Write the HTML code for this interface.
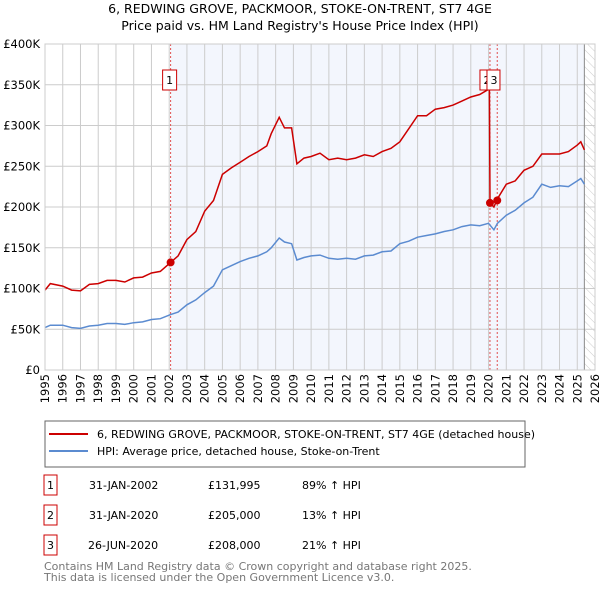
<!DOCTYPE html>
<html><head><meta charset="utf-8"><style>
body{margin:0;background:#fff;font-family:"DejaVu Sans","Liberation Sans",sans-serif;}
svg text{font-family:"DejaVu Sans","Liberation Sans",sans-serif;}
</style></head><body>
<svg id="c" width="600" height="590" xmlns="http://www.w3.org/2000/svg">
<defs><pattern id="hatch" width="6" height="6" patternUnits="userSpaceOnUse" patternTransform="rotate(-45)"><line x1="0" y1="0" x2="0" y2="6" stroke="#ccc" stroke-width="1"/></pattern></defs>
<text x="300" y="13" text-anchor="middle" font-size="12.5">6, REDWING GROVE, PACKMOOR, STOKE-ON-TRENT, ST7 4GE</text>
<text x="300" y="30" text-anchor="middle" font-size="12.5">Price paid vs. HM Land Registry's House Price Index (HPI)</text>
<g id="plot"></g>
<rect x="45" y="421" width="480" height="46" fill="none" stroke="#666"/>
<line x1="49" y1="434" x2="88" y2="434" stroke="#cc0000" stroke-width="2"/>
<text x="97" y="438" font-size="11">6, REDWING GROVE, PACKMOOR, STOKE-ON-TRENT, ST7 4GE (detached house)</text>
<line x1="49" y1="451" x2="88" y2="451" stroke="#5b8bd0" stroke-width="2"/>
<text x="97" y="455" font-size="11">HPI: Average price, detached house, Stoke-on-Trent</text>
<g font-size="11">
<rect x="44" y="475" width="13" height="20" fill="none" stroke="#cc0000"/><text x="50.5" y="489" text-anchor="middle">1</text>
<text x="89" y="489">31-JAN-2002</text><text x="208" y="489">£131,995</text><text x="302" y="489">89% ↑ HPI</text>
<rect x="44" y="505" width="13" height="20" fill="none" stroke="#cc0000"/><text x="50.5" y="519" text-anchor="middle">2</text>
<text x="89" y="519">31-JAN-2020</text><text x="208" y="519">£205,000</text><text x="302" y="519">13% ↑ HPI</text>
<rect x="44" y="535" width="13" height="20" fill="none" stroke="#cc0000"/><text x="50.5" y="549" text-anchor="middle">3</text>
<text x="88" y="549">26-JUN-2020</text><text x="208" y="549">£208,000</text><text x="302" y="549">21% ↑ HPI</text>
</g>
<text x="44" y="570" font-size="11" fill="#777">Contains HM Land Registry data © Crown copyright and database right 2025.</text>
<text x="44" y="581" font-size="11" fill="#777">This data is licensed under the Open Government Licence v3.0.</text>
</svg>
<script>
const hpiYears=[1995,1995.3,1996,1996.5,1997,1997.5,1998,1998.5,1999,1999.5,2000,2000.5,2001,2001.5,2002.08,2002.5,2003,2003.5,2004,2004.5,2005,2005.5,2006,2006.5,2007,2007.5,2007.75,2008.2,2008.5,2008.9,2009.2,2009.6,2010,2010.5,2011,2011.5,2012,2012.5,2013,2013.5,2014,2014.5,2015,2015.5,2016,2016.5,2017,2017.5,2018,2018.5,2019,2019.5,2020,2020.3,2020.5,2021,2021.5,2022,2022.5,2023,2023.5,2024,2024.5,2025,2025.2,2025.4];
const hpiValues=[52,55,55,52,51,54,55,57,57,56,58,59,62,63,68,71,80,86,95,103,123,128,133,137,140,145,150,162,157,155,135,138,140,141,137,136,137,136,140,141,145,146,155,158,163,165,167,170,172,176,178,177,180,172,180,190,196,205,212,228,224,226,225,232,235,228];
const redYears=[1995,1995.3,1996,1996.5,1997,1997.5,1998,1998.5,1999,1999.5,2000,2000.5,2001,2001.5,2002.08,2002.5,2003,2003.5,2004,2004.5,2005,2005.5,2006,2006.5,2007,2007.5,2007.75,2008.2,2008.5,2008.9,2009.2,2009.6,2010,2010.5,2011,2011.5,2012,2012.5,2013,2013.5,2014,2014.5,2015,2015.5,2016,2016.5,2017,2017.5,2018,2018.5,2019,2019.5,2020.05,2020.08,2020.3,2020.5,2021,2021.5,2022,2022.5,2023,2023.5,2024,2024.5,2025,2025.2,2025.4];
const redValues=[98,106,103,98,97,105,106,110,110,108,113,114,119,121,132,140,160,170,195,208,240,248,255,262,268,275,290,310,297,297,253,260,262,266,258,260,258,260,264,262,268,272,280,296,312,312,320,322,325,330,335,338,345,205,200,210,228,232,245,250,265,265,265,268,276,280,270];
const saleYears=[2002.08,2020.08,2020.49];
const saleValues=[131.995,205,208];
const saleLabels=["1","2","3"];
const yTicks=[0,50,100,150,200,250,300,350,400];
const xTicks=[1995,1996,1997,1998,1999,2000,2001,2002,2003,2004,2005,2006,2007,2008,2009,2010,2011,2012,2013,2014,2015,2016,2017,2018,2019,2020,2021,2022,2023,2024,2025,2026];

const X0=45,X1=595,Y0=370,Y1=44;
const sx=v=>X0+(v-1995)/(2026-1995)*(X1-X0);
const sy=v=>Y0-v/400*(Y0-Y1);
const NS="http://www.w3.org/2000/svg";
const g=document.getElementById('plot');
function mk(t,a){const e=document.createElementNS(NS,t);for(const k in a)e.setAttribute(k,a[k]);g.appendChild(e);return e;}
let e;
e=mk('rect',{x:sx(2002.08),y:Y1,width:sx(2025.4)-sx(2002.08),height:Y0-Y1,fill:'#f3f6fd'});


e=mk('rect',{x:sx(2025.4),y:Y1,width:X1-sx(2025.4),height:Y0-Y1,fill:'url(#hatch)'});


xTicks.forEach(t=>{
 e=mk('line',{x1:sx(t),x2:sx(t),y1:Y1,y2:Y0,stroke:'#ccc','stroke-width':1});
 
 
 const tx=sx(t)+4,ty=374;
 e=mk('text',{x:tx,y:ty,'text-anchor':'end','font-size':11.5,transform:`rotate(-90 ${tx} ${ty})`});e.textContent=t;
 
 
});
yTicks.forEach(t=>{
 e=mk('line',{x1:X0,x2:X1,y1:sy(t),y2:sy(t),stroke:'#ccc','stroke-width':1});
 
 
 e=mk('text',{x:40,y:sy(t)+4,'text-anchor':'end','font-size':11.5});e.textContent=t===0?'£0':'£'+t+'K';
 
 
});
e=mk('line',{x1:sx(2025.4),x2:sx(2025.4),y1:Y1,y2:Y0,stroke:'#888','stroke-width':1});


saleYears.forEach((y,i)=>{
 e=mk('line',{x1:sx(y),x2:sx(y),y1:Y1,y2:Y0,stroke:'#e05050','stroke-width':1,'stroke-dasharray':'2,2'});
 
 
});
const pts=(xs,ys)=>xs.map((x,i)=>sx(x).toFixed(1)+','+sy(ys[i]).toFixed(1)).join(' ');
e=mk('polyline',{points:pts(hpiYears,hpiValues),fill:'none',stroke:'#5b8bd0','stroke-width':1.5});


e=mk('polyline',{points:pts(redYears,redValues),fill:'none',stroke:'#cc0000','stroke-width':1.5});


saleYears.forEach((y,i)=>{
 e=mk('circle',{cx:sx(y),cy:sy(saleValues[i]),r:4,fill:'#cc0000'});
 
 
});
const boxX=[sx(saleYears[0])-8,sx(saleYears[1])-10,sx(saleYears[1])-3];
saleLabels.forEach((l,i)=>{
 e=mk('rect',{x:boxX[i],y:70,width:i===0?14:13,height:20,fill:'#fff',stroke:'#cc0000'});
 
 
 e=mk('text',{x:boxX[i]+7,y:84,'text-anchor':'middle','font-size':11});e.textContent=l;
 
 
});
e=mk('rect',{x:X0,y:Y1,width:X1-X0,height:Y0-Y1,fill:'none',stroke:'#ccc'});


</script>
</body></html>
